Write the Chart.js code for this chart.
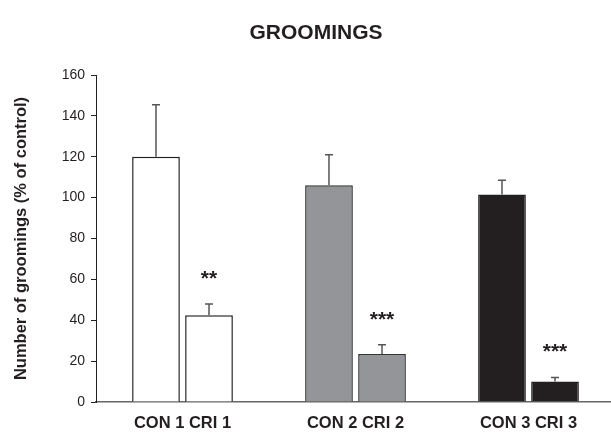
<!DOCTYPE html>
<html>
<head>
<meta charset="utf-8">
<script src="https://cdn.jsdelivr.net/npm/chart.js@4"></script>
<style>
html,body{margin:0;padding:0;background:#fff;overflow:hidden;}
#wrap{position:relative;width:616px;height:434px;}
</style>
</head>
<body>
<div id="wrap"><canvas id="c" width="616" height="434"></canvas></div>
<script>
const categories = ['CON 1 CRI 1', 'CON 2 CRI 2', 'CON 3 CRI 3'];
const conValues = [120, 106, 101.5];
const conErrors = [25.5, 15, 7];
const criValues = [42.5, 23.5, 10];
const criErrors = [5.5, 4.5, 2];
const criStars = ['**', '***', '***'];
const yTicks = [0, 20, 40, 60, 80, 100, 120, 140, 160];
const fillColors = ['#ffffff', '#939598', '#231f20'];
const borderColors = ['#231f20', '#333333', '#231f20'];

const errorPlugin = {
  id: 'errbars',
  afterDatasetsDraw(chart) {
    const ctx = chart.ctx;
    const y = chart.scales.y;
    chart.data.datasets.forEach((ds, di) => {
      const meta = chart.getDatasetMeta(di);
      meta.data.forEach((bar, i) => {
        const v = ds.data[i], e = ds.errors[i];
        const yTop = y.getPixelForValue(v + e);
        const yBar = y.getPixelForValue(v);
        ctx.save();
        ctx.strokeStyle = '#555555';
        ctx.lineWidth = 1.5;
        ctx.beginPath();
        ctx.moveTo(bar.x, yBar);
        ctx.lineTo(bar.x, yTop);
        ctx.moveTo(bar.x - 4, yTop);
        ctx.lineTo(bar.x + 4, yTop);
        ctx.stroke();
        if (ds.stars && ds.stars[i]) {
          ctx.fillStyle = '#231f20';
          ctx.font = 'bold 21px "Liberation Sans", Arial, sans-serif';
          ctx.textAlign = 'center';
          ctx.textBaseline = 'middle';
          ctx.fillText(ds.stars[i], bar.x, yTop - 25);
        }
        ctx.restore();
      });
    });
  }
};

const titlePlugin = {
  id: 'mytitle',
  afterDraw(chart) {
    const ctx = chart.ctx;
    ctx.save();
    ctx.fillStyle = '#231f20';
    ctx.font = 'bold 21px "Liberation Sans", Arial, sans-serif';
    ctx.textAlign = 'center';
    ctx.textBaseline = 'middle';
    ctx.fillText('GROOMINGS', 316, 33);
    ctx.restore();
  }
};

new Chart(document.getElementById('c'), {
  type: 'bar',
  data: {
    labels: categories,
    datasets: [
      { label: 'CON', data: conValues, errors: conErrors, backgroundColor: fillColors, borderColor: borderColors, borderWidth: 1.5, categoryPercentage: 0.613, barPercentage: 0.9 },
      { label: 'CRI', data: criValues, errors: criErrors, stars: criStars, backgroundColor: fillColors, borderColor: borderColors, borderWidth: 1.5, categoryPercentage: 0.613, barPercentage: 0.9 }
    ]
  },
  options: {
    responsive: false,
    animation: false,
    layout: { padding: { top: 75, right: 1, left: 0, bottom: 0 } },
    plugins: { legend: { display: false }, tooltip: { enabled: false }, title: { display: false } },
    scales: {
      x: {
        grid: { display: false },
        border: { display: true, color: '#666666', width: 1.5 },
        ticks: { color: '#231f20', font: { family: '"Liberation Sans", Arial, sans-serif', size: 16.5, weight: 'bold' }, padding: 4, maxRotation: 0 },
        afterFit(s) { s.height = 32; }
      },
      y: {
        min: 0, max: 160,
        afterBuildTicks(s) { s.ticks = yTicks.map(v => ({ value: v })); },
        grid: { drawOnChartArea: false, drawTicks: true, tickLength: 5, color: '#231f20', lineWidth: 1 },
        border: { display: true, color: '#231f20', width: 1 },
        ticks: { color: '#231f20', font: { family: '"Liberation Sans", Arial, sans-serif', size: 14 }, padding: 6 },
        title: { display: true, text: 'Number of groomings (% of control)', color: '#231f20', font: { family: '"Liberation Sans", Arial, sans-serif', size: 16.5, weight: 'bold' }, padding: { top: 12, bottom: 0 } },
        afterFit(s) { s.width = 96; }
      }
    }
  },
  plugins: [errorPlugin, titlePlugin]
});
</script>
</body>
</html>
